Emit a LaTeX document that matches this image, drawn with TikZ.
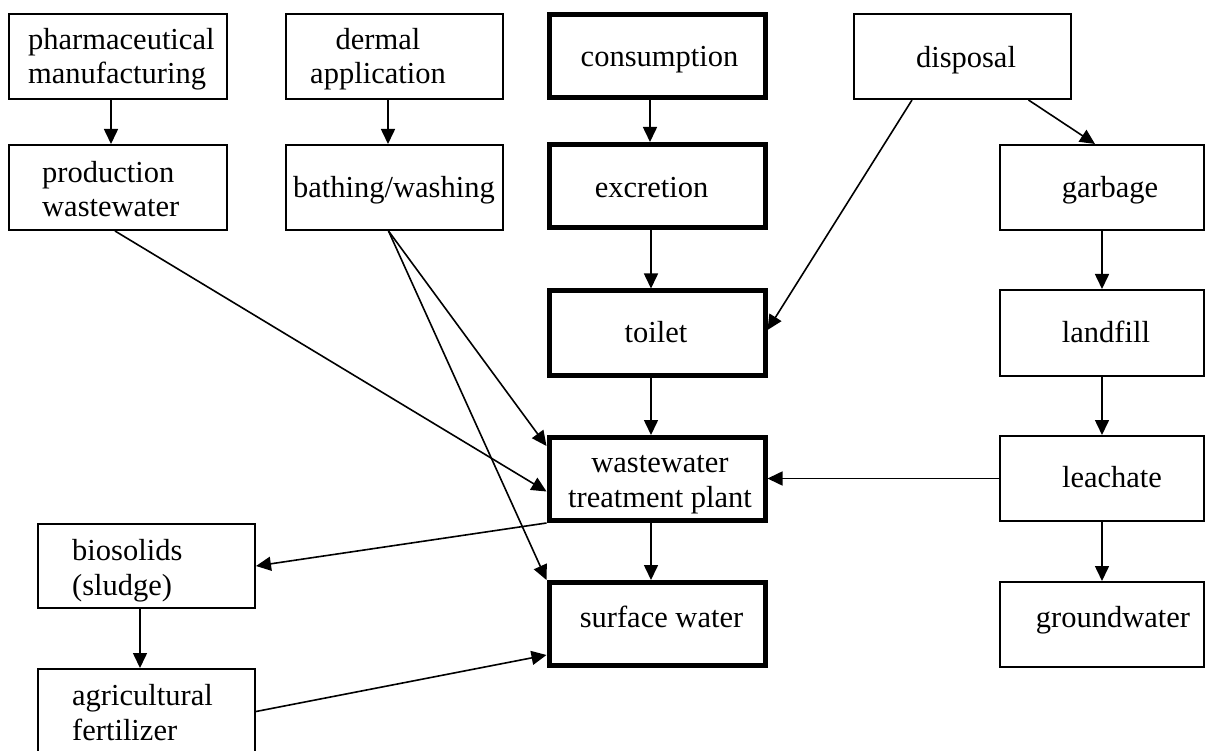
\documentclass[tikz,border=0pt]{standalone}
\usepackage{fontspec}
\setmainfont{Liberation Serif}
\usetikzlibrary{arrows.meta}
\begin{document}
\begin{tikzpicture}[x=1pt,y=-1pt,
  thinbox/.style={draw,line width=2pt,minimum width=217pt,minimum height=85pt,inner sep=0pt},
  thickbox/.style={draw,line width=5pt,minimum width=216pt,minimum height=83pt,inner sep=0pt},
  lbl/.style={inner sep=0pt,font=\fontsize{30.5}{34.5}\selectfont},
  flow/.style={line width=1.6pt,-{Triangle[length=15pt,width=14pt]}}]
\useasboundingbox (0,0) rectangle (1210,751);

% boxes: sources and pathways (thin), main human route (thick)
\node[thinbox,minimum width=218pt] (pharm) at (118,56.5) {};
\node[thinbox,minimum width=218pt] (prod) at (118,187.5) {};
\node[thinbox] (dermal) at (394.5,56.5) {};
\node[thinbox] (bathing) at (394.5,187.5) {};
\node[thinbox] (disposal) at (962.5,56.5) {};
\node[thinbox,minimum width=204pt] (garbage) at (1102,187.5) {};
\node[thinbox,minimum width=204pt,minimum height=86pt] (landfill) at (1102,333) {};
\node[thinbox,minimum width=204pt] (leachate) at (1102,478.5) {};
\node[thinbox,minimum width=204pt] (groundwater) at (1102,624.5) {};
\node[thinbox,minimum height=84pt] (biosolids) at (146.5,566) {};
\node[thinbox] (agri) at (146.5,711.5) {};

\node[thickbox] (consumption) at (657,56.5) {};
\node[thickbox] (excretion) at (657,186) {};
\node[thickbox,minimum height=84pt] (toilet) at (657,333) {};
\node[thickbox] (wwtp) at (657,479) {};
\node[thickbox] (surface) at (657,624) {};

% box texts (two-line texts are placed by the baseline of their last line)
\node[lbl,align=left,anchor=base west] (pharmT) at (28,84) {pharmaceutical\\manufacturing};
\node[lbl,align=left,anchor=base west] (prodT) at (42,217) {production\\wastewater};
\node[lbl,align=center,anchor=base] (dermalT) at (378,84) {dermal\\application};
\node[lbl,anchor=base] (bathingT) at (394,198) {bathing/washing};
\node[lbl,anchor=base] (consumptionT) at (659.5,67) {consumption};
\node[lbl,anchor=base] (excretionT) at (651.5,198) {excretion};
\node[lbl,anchor=base] (disposalT) at (966,68) {disposal};
\node[lbl,anchor=base] (garbageT) at (1110,198) {garbage};
\node[lbl,anchor=base] (toiletT) at (656,342) {toilet};
\node[lbl,anchor=base] (landfillT) at (1106,342) {landfill};
\node[lbl,align=center,anchor=base] (wwtpT) at (660,507) {wastewater\\treatment plant};
\node[lbl,anchor=base] (leachateT) at (1112,487) {leachate};
\node[lbl,align=left,anchor=base west] (biosolidsT) at (72,595) {biosolids\\(sludge)};
\node[lbl,anchor=base] (surfaceT) at (661.5,627) {surface water};
\node[lbl,anchor=base] (groundwaterT) at (1113,627) {groundwater};
\node[lbl,align=left,anchor=base west] (agriT) at (72,740) {agricultural\\fertilizer};

% vertical flows
\draw[flow] ([xshift=-7pt]pharm.south) -- ([xshift=-7pt]prod.north);
\draw[flow] ([xshift=-6.5pt]dermal.south) -- ([xshift=-6.5pt]bathing.north);
\draw[flow] ([xshift=-7pt]consumption.south) -- ([xshift=-7pt]excretion.north);
\draw[flow] ([xshift=-6pt]excretion.south) -- ([xshift=-6pt]toilet.north);
\draw[flow] ([xshift=-6pt]toilet.south) -- ([xshift=-6pt]wwtp.north);
\draw[flow] ([xshift=-6pt]wwtp.south) -- ([xshift=-6pt]surface.north);
\draw[flow] (garbage.south) -- (landfill.north);
\draw[flow] (landfill.south) -- (leachate.north);
\draw[flow] (leachate.south) -- (groundwater.north);
\draw[flow] ([xshift=-6.5pt]biosolids.south) -- ([xshift=-6.5pt]agri.north);

% slanted and horizontal flows
\draw[flow] ([xshift=66pt]disposal.south) -- ([xshift=-7pt]garbage.north);
\draw[flow] ([xshift=-50.5pt]disposal.south) -- ([yshift=3pt]toilet.east);
\draw[flow] ([xshift=-3pt]prod.south) -- ([yshift=-12.5pt]wwtp.west);
\draw[flow] ([xshift=-6pt]bathing.south) -- ([yshift=33pt]wwtp.west);
\draw[flow] ([xshift=-6pt]bathing.south) -- (surface.north west);
\draw[flow] (wwtp.south west) -- (biosolids.east);
\draw[flow] (agri.east) -- ([yshift=-31pt]surface.west);
\draw[flow] (leachate.west) -- (leachate.west -| wwtp.east);
\end{tikzpicture}
\end{document}
